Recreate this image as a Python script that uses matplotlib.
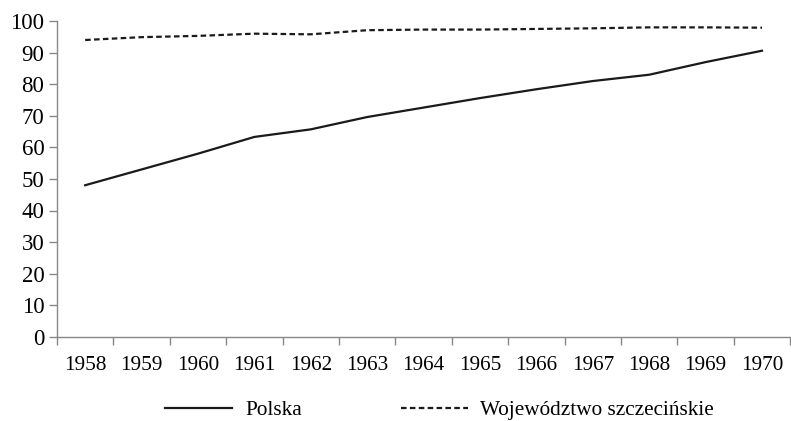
import numpy as np
import matplotlib.pyplot as plt

plt.rcParams['font.family'] = ['Liberation Serif', 'DejaVu Serif']

years = ['1958', '1959', '1960', '1961', '1962', '1963', '1964',
         '1965', '1966', '1967', '1968', '1969', '1970']
polska = [48, 53, 58, 63.3, 65.7, 69.6, 72.6, 75.6, 78.4, 81, 83, 87, 90.6]
szczecin = [94, 94.9, 95.3, 96, 95.8, 97.1, 97.3, 97.3, 97.5, 97.7, 98, 98, 97.9]

fig = plt.figure(figsize=(7.91, 4.21), dpi=100)
ax = fig.add_axes([0.072, 0.2, 0.927, 0.75])

x = np.arange(len(years))
ax.plot(x, polska, color='#1a1a1a', lw=1.6, label='Polska')
ax.plot(x, szczecin, color='#1a1a1a', lw=1.6, dashes=(2.5, 1.5),
        label='Województwo szczecińskie')

ax.set_xlim(-0.5, len(years) - 0.5)
ax.set_ylim(0, 100)
ax.set_yticks(range(0, 101, 10))
ax.set_xticks(x)
ax.set_xticklabels(years)
ax.set_xticks(np.arange(-0.5, len(years)), minor=True)
ax.tick_params(axis='x', which='major', length=0, pad=14, labelsize=15.3)
ax.tick_params(axis='x', which='minor', length=6, color='#888888', width=1)
ax.tick_params(axis='y', length=6, color='#888888', width=1, labelsize=16.5, pad=3)

for s in ['top', 'right']:
    ax.spines[s].set_visible(False)
for s in ['left', 'bottom']:
    ax.spines[s].set_color('#888888')
    ax.spines[s].set_linewidth(1)

fig.legend(loc='center', bbox_to_anchor=(0.556, 0.026), ncol=2, frameon=False,
           fontsize=15.3, handlelength=3.15, handletextpad=0.6, columnspacing=4.66,
           borderaxespad=0)

fig.savefig('out.png', dpi=100)
